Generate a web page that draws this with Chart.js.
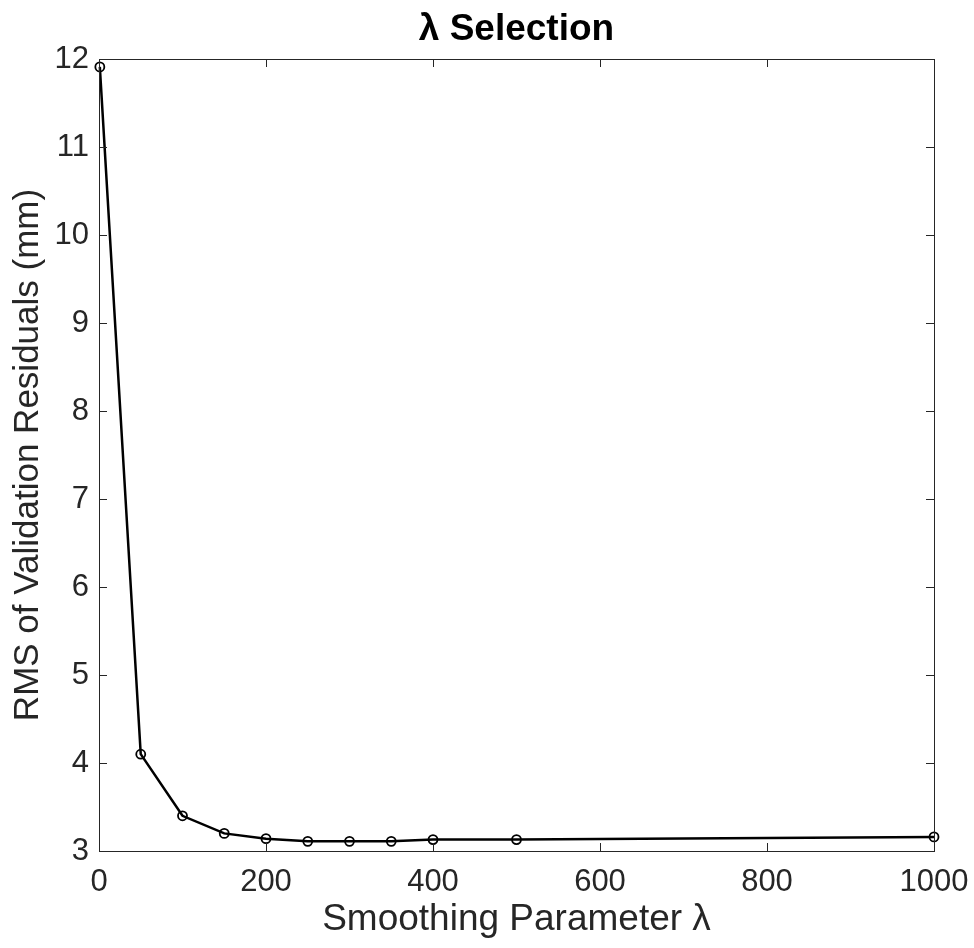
<!DOCTYPE html>
<html>
<head>
<meta charset="utf-8">
<script src="https://cdn.jsdelivr.net/npm/chart.js@4"></script>
<style>
  html, body { margin: 0; padding: 0; background: #fff; }
  #wrap { width: 974px; height: 948px; }
</style>
</head>
<body>
<div id="wrap"><canvas id="lambdaChart" width="974" height="948"></canvas></div>
<script>
// data
const lambdas = [1, 50, 100, 150, 200, 250, 300, 350, 400, 500, 1000];
const rmsValues = [11.91, 4.10, 3.40, 3.20, 3.14, 3.11, 3.11, 3.11, 3.13, 3.13, 3.16];
const xTicks = [0, 200, 400, 600, 800, 1000];
const yTicks = [3, 4, 5, 6, 7, 8, 9, 10, 11, 12];

const FONT = "'Liberation Sans', Arial, Helvetica, sans-serif";
const AXIS_COLOR = "#262626";

// MATLAB style box with inward ticks on all four sides
const boxPlugin = {
    id: "boxTicks",
    afterDraw(chart) {
        const ctx = chart.ctx;
        const a = chart.chartArea;
        const xs = chart.scales.x, ys = chart.scales.y;
        const len = 8;
        ctx.save();
        ctx.strokeStyle = AXIS_COLOR;
        ctx.lineWidth = 1;
        ctx.strokeRect(a.left + 0.5, a.top + 0.5, a.right - a.left, a.bottom - a.top);
        ctx.beginPath();
        xTicks.forEach(v => {
            const px = Math.round(xs.getPixelForValue(v)) + 0.5;
            ctx.moveTo(px, a.bottom); ctx.lineTo(px, a.bottom - len);
            ctx.moveTo(px, a.top); ctx.lineTo(px, a.top + len);
        });
        yTicks.forEach(v => {
            const py = Math.round(ys.getPixelForValue(v)) + 0.5;
            ctx.moveTo(a.left, py); ctx.lineTo(a.left + len, py);
            ctx.moveTo(a.right, py); ctx.lineTo(a.right - len, py);
        });
        ctx.stroke();

        // title
        ctx.fillStyle = "#000";
        ctx.font = "bold 37px " + FONT;
        ctx.textAlign = "center";
        ctx.textBaseline = "middle";
        ctx.fillText("\u03bb Selection", (a.left + a.right) / 2, 30);
        ctx.restore();
    }
};

new Chart(document.getElementById("lambdaChart").getContext("2d"), {
    type: "line",
    data: {
        datasets: [{
            data: lambdas.map((x, i) => ({ x: x, y: rmsValues[i] })),
            borderColor: "#000",
            borderWidth: 2.5,
            pointRadius: 4.5,
            pointBorderWidth: 1.8,
            pointBackgroundColor: "rgba(255,255,255,0)",
            pointBorderColor: "#000",
            tension: 0,
            clip: false
        }]
    },
    options: {
        responsive: false,
        animation: false,
        layout: { padding: { top: 59, right: 40, left: 0, bottom: 0 } },
        plugins: {
            legend: { display: false },
            tooltip: { enabled: false }
        },
        scales: {
            x: {
                type: "linear",
                min: 0,
                max: 1000,
                afterFit(scale) {
                    scale.height = 97;
                    scale.paddingLeft = 0;
                    scale.paddingRight = 0;
                },
                afterBuildTicks(scale) { scale.ticks = xTicks.map(v => ({ value: v })); },
                grid: { display: false, drawTicks: false },
                border: { display: false },
                ticks: {
                    padding: 13,
                    color: AXIS_COLOR,
                    font: { family: FONT, size: 31 },
                    maxRotation: 0,
                    callback: v => String(v)
                },
                title: {
                    display: true,
                    text: "Smoothing Parameter \u03bb",
                    color: AXIS_COLOR,
                    font: { family: FONT, size: 37 },
                    padding: { top: 0, bottom: 6 }
                }
            },
            y: {
                min: 3,
                max: 12,
                afterFit(scale) {
                    scale.width = 99;
                    scale.paddingTop = 0;
                    scale.paddingBottom = 0;
                },
                afterBuildTicks(scale) { scale.ticks = yTicks.map(v => ({ value: v })); },
                grid: { display: false, drawTicks: false },
                border: { display: false },
                ticks: {
                    padding: 10,
                    color: AXIS_COLOR,
                    font: { family: FONT, size: 31 }
                },
                title: {
                    display: true,
                    text: "RMS of Validation Residuals (mm)",
                    color: AXIS_COLOR,
                    font: { family: FONT, size: 35 },
                    padding: { top: 7, bottom: 0 }
                }
            }
        }
    },
    plugins: [boxPlugin]
});
</script>
</body>
</html>
